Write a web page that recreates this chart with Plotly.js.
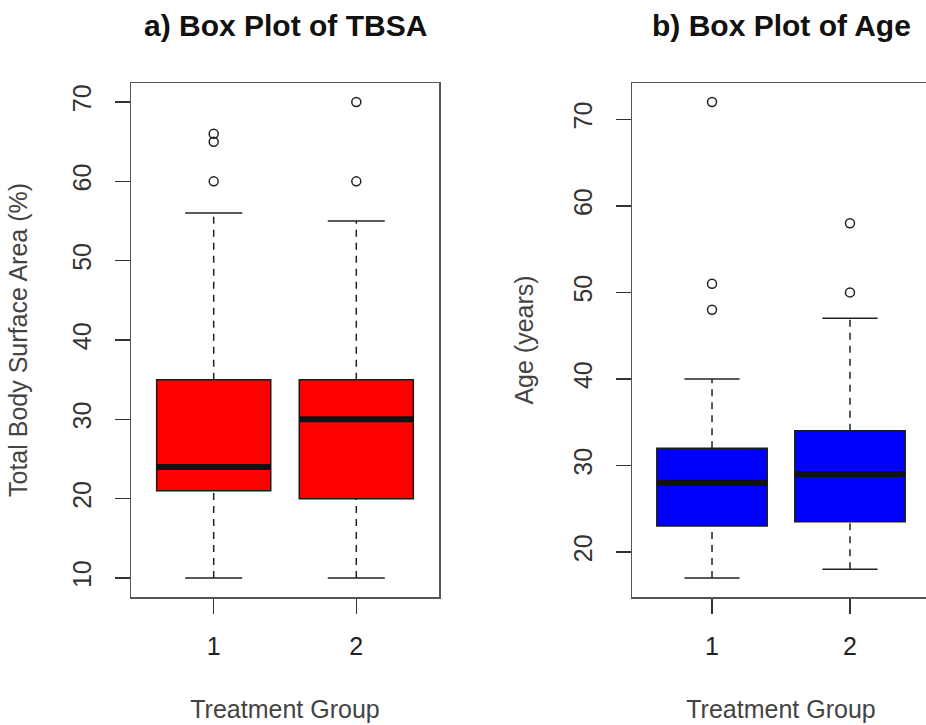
<!DOCTYPE html>
<html>
<head>
<meta charset="utf-8">
<script src="https://cdn.plot.ly/plotly-3.0.1.min.js"></script>
<style>
html, body { margin: 0; padding: 0; overflow: hidden; background: #fff; }
#chart { width: 940px; height: 725px; }
</style>
</head>
<body>
<div id="chart"></div>
<script>
// ---- data ----
const groups = ['1', '2'];
const groupPos = [1, 2];

const tbsaLow = [10, 10];
const tbsaQ1 = [21, 20];
const tbsaMedian = [24, 30];
const tbsaQ3 = [35, 35];
const tbsaHigh = [56, 55];
const tbsaOutliers = [[60, 65, 66], [60, 70]];

const ageLow = [17, 18];
const ageQ1 = [23, 23.5];
const ageMedian = [28, 29];
const ageQ3 = [32, 34];
const ageHigh = [40, 47];
const ageOutliers = [[48, 51, 72], [50, 58]];

const panelTitles = ['a) Box Plot of TBSA', 'b) Box Plot of Age'];
const xTitle = 'Treatment Group';
const yTitles = ['Total Body Surface Area (%)', 'Age (years)'];

// ---- styling ----
const FONT = 'Liberation Sans, Arial, Helvetica, sans-serif';
const BOXW = 0.8, CAPW = 0.4;
const frameColor = '#555';

function panel(xa, ya, low, q1, med, q3, high, outs, fill) {
  const tr = [];
  tr.push({
    type: 'box', xaxis: xa, yaxis: ya,
    x: groupPos, q1: q1, median: med, q3: q3,
    lowerfence: q1, upperfence: q3,
    width: BOXW, boxpoints: false,
    fillcolor: fill, line: { color: '#1a1a1a', width: 1.5 },
    hoverinfo: 'skip', showlegend: false
  });
  const wx = [], wy = [], cx = [], cy = [], mx = [], my = [], ox = [], oy = [];
  groupPos.forEach((p, i) => {
    wx.push(p, p, null, p, p, null);
    wy.push(q3[i], high[i], null, low[i], q1[i], null);
    cx.push(p - CAPW / 2, p + CAPW / 2, null, p - CAPW / 2, p + CAPW / 2, null);
    cy.push(high[i], high[i], null, low[i], low[i], null);
    mx.push(p - BOXW / 2, p + BOXW / 2, null);
    my.push(med[i], med[i], null);
    outs[i].forEach(v => { ox.push(p); oy.push(v); });
  });
  tr.push({ type: 'scatter', mode: 'lines', xaxis: xa, yaxis: ya, x: wx, y: wy,
    line: { color: '#222', width: 1.5, dash: '7px,6px' }, hoverinfo: 'skip', showlegend: false });
  tr.push({ type: 'scatter', mode: 'lines', xaxis: xa, yaxis: ya, x: cx, y: cy,
    line: { color: '#222', width: 1.5 }, hoverinfo: 'skip', showlegend: false });
  tr.push({ type: 'scatter', mode: 'lines', xaxis: xa, yaxis: ya, x: mx, y: my,
    line: { color: '#111', width: 6 }, hoverinfo: 'skip', showlegend: false });
  tr.push({ type: 'scatter', mode: 'markers', xaxis: xa, yaxis: ya, x: ox, y: oy,
    marker: { symbol: 'circle-open', size: 9, color: '#222', line: { width: 1.5, color: '#222' } },
    hoverinfo: 'skip', showlegend: false });
  return tr;
}

const data = [].concat(
  panel('x', 'y', tbsaLow, tbsaQ1, tbsaMedian, tbsaQ3, tbsaHigh, tbsaOutliers, '#ff0000'),
  panel('x2', 'y2', ageLow, ageQ1, ageMedian, ageQ3, ageHigh, ageOutliers, '#0000ff')
);

function xaxisDef(domain, anchor) {
  return {
    domain: domain, anchor: anchor, range: [0.42, 2.58],
    tickvals: groupPos, ticktext: groups,
    ticks: 'outside', ticklen: 15, tickwidth: 1.5, tickcolor: '#333',
    ticklabelstandoff: 11,
    showline: true, mirror: true, linecolor: frameColor, linewidth: 1.5,
    showgrid: false, zeroline: false, automargin: false,
    tickfont: { family: FONT, size: 25, color: '#222' },
    title: { text: xTitle, standoff: 42, font: { family: FONT, size: 25, color: '#444' } }
  };
}
function yaxisDef(range, tickvals, title, anchor, standoff) {
  return {
    anchor: anchor, range: range, tickvals: tickvals,
    tickangle: -90,
    ticks: 'outside', ticklen: 15, tickwidth: 1.5, tickcolor: '#333',
    ticklabelstandoff: 14,
    showline: true, mirror: true, linecolor: frameColor, linewidth: 1.5,
    showgrid: false, zeroline: false, automargin: false,
    tickfont: { family: FONT, size: 25, color: '#333' },
    title: { text: title, standoff: standoff, font: { family: FONT, size: 25, color: '#444' } }
  };
}

const W = 940, H = 725, ML = 131, MR = 10, MT = 83, MB = 128;
const PW = W - ML - MR;
const layout = {
  width: W, height: H,
  margin: { l: ML, r: MR, t: MT, b: MB, pad: 0 },
  paper_bgcolor: '#fff', plot_bgcolor: '#fff',
  showlegend: false,
  xaxis: xaxisDef([0, (439 - ML) / PW], 'y'),
  yaxis: yaxisDef([7.6, 72.4], [10, 20, 30, 40, 50, 60, 70], yTitles[0], 'x', 33),
  xaxis2: xaxisDef([(632 - ML) / PW, 1], 'y2'),
  yaxis2: yaxisDef([14.8, 74.2], [20, 30, 40, 50, 60, 70], yTitles[1], 'x2', 28),
  annotations: [
    { text: panelTitles[0], xref: 'paper', yref: 'paper', x: (285 - ML) / PW, y: (H - MB - 26) / (H - MT - MB),
      xanchor: 'center', yanchor: 'middle', showarrow: false,
      font: { family: FONT, size: 30, color: '#111', weight: 'bold' } },
    { text: panelTitles[1], xref: 'paper', yref: 'paper', x: (781 - ML) / PW, y: (H - MB - 26) / (H - MT - MB),
      xanchor: 'center', yanchor: 'middle', showarrow: false,
      font: { family: FONT, size: 30, color: '#111', weight: 'bold' } }
  ]
};

Plotly.newPlot('chart', data, layout, { staticPlot: true, displayModeBar: false, responsive: false });
</script>
</body>
</html>
